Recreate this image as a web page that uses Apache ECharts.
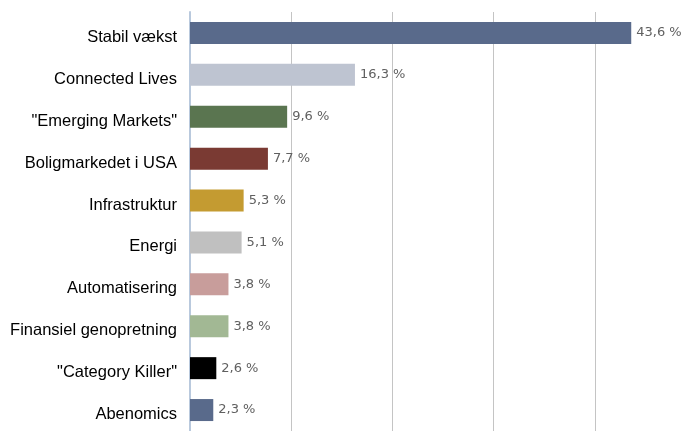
<!DOCTYPE html>
<html>
<head>
<meta charset="utf-8">
<script src="https://cdn.jsdelivr.net/npm/echarts@6/dist/echarts.min.js"></script>
<style>
  html, body { margin: 0; padding: 0; background: #fff; }
  #chart { width: 696px; height: 431px; }
</style>
</head>
<body>
<div id="chart"></div>
<script>
const categories = [
  'Stabil vækst',
  'Connected Lives',
  '"Emerging Markets"',
  'Boligmarkedet i USA',
  'Infrastruktur',
  'Energi',
  'Automatisering',
  'Finansiel genopretning',
  '"Category Killer"',
  'Abenomics'
]
const shares = [43.6, 16.3, 9.6, 7.7, 5.3, 5.1, 3.8, 3.8, 2.6, 2.3]
const barColors = [
  '#596a8b', '#bec4d1', '#5a7550', '#7a3a33', '#c49b31',
  '#c0c0c0', '#c89d9b', '#a2b894', '#000000', '#596a8b'
]

const chart = echarts.init(document.getElementById('chart'))

const option = {
  animation: false,
  backgroundColor: '#ffffff',
  grid: {
    left: 190,
    top: 12,
    width: 509,
    height: 428
  },
  xAxis: {
    type: 'value',
    min: 0,
    max: 50,
    interval: 10,
    axisLine: { show: false },
    axisTick: { show: false },
    axisLabel: { show: false },
    splitLine: { lineStyle: { color: '#c4c4c4', width: 1 } }
  },
  yAxis: {
    type: 'category',
    inverse: true,
    data: categories,
    axisLine: { lineStyle: { color: '#b9c9dd', width: 2 } },
    axisTick: { length: 8, lineStyle: { color: '#b9c9dd', width: 1 } },
    axisLabel: {
      margin: 13,
      formatter: (v) => '{a|' + v + '}',
      rich: {
        a: {
          color: '#000000',
          fontFamily: 'Liberation Sans, Arial, sans-serif',
          fontSize: 16.5,
          padding: [9, 0, 0, 0]
        }
      }
    }
  },
  series: [
    {
      type: 'bar',
      barWidth: 22,
      data: shares.map((v, i) => ({ value: v, itemStyle: { color: barColors[i] } })),
      label: {
        show: true,
        position: 'right',
        distance: 5,
        color: '#606060',
        fontFamily: 'DejaVu Sans, sans-serif',
        fontSize: 13,
        padding: [3, 0, 0, 0],
        formatter: (p) => p.value.toFixed(1).replace('.', ',') + ' %'
      }
    }
  ]
}

chart.setOption(option)
</script>
</body>
</html>
